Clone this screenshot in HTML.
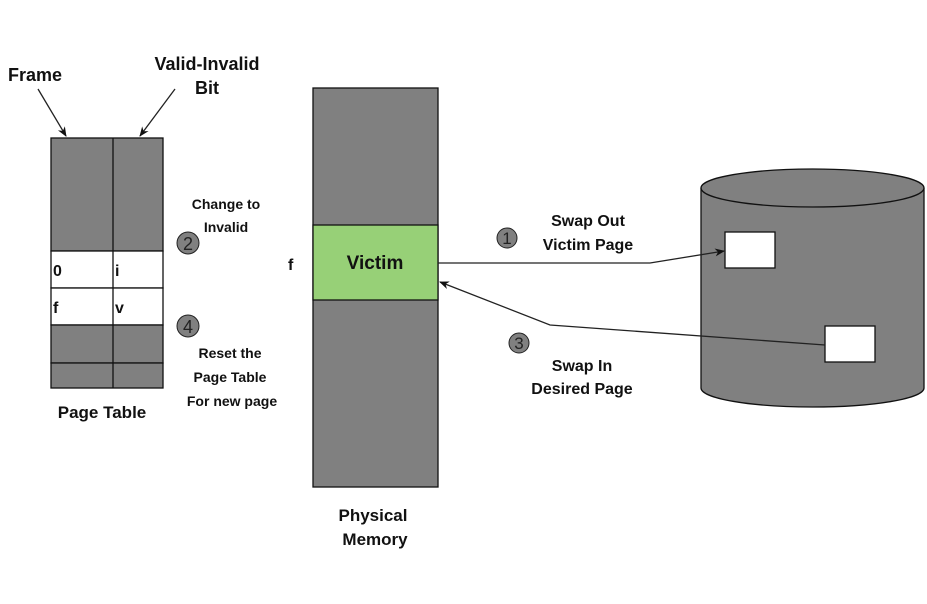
<!DOCTYPE html>
<html><head><meta charset="utf-8"><style>
html,body{margin:0;padding:0;background:#fff;}
svg{display:block;}
text{font-family:"Liberation Sans",Arial,sans-serif;font-weight:bold;fill:#111;}
text.n{font-weight:normal;fill:#222;}
</style></head><body>
<svg width="927" height="604" viewBox="0 0 927 604" xmlns="http://www.w3.org/2000/svg">
<defs>
<marker id="ah" markerWidth="10" markerHeight="10" refX="9" refY="5" orient="auto" markerUnits="userSpaceOnUse">
<path d="M0,1 L10,5 L0,9 L3,5 Z" fill="#111"/>
</marker>
</defs>
<text x="35" y="81" font-size="18" text-anchor="middle">Frame</text>
<text x="207" y="70" font-size="18" text-anchor="middle">Valid-Invalid</text>
<text x="207" y="94" font-size="18" text-anchor="middle">Bit</text>
<line x1="38" y1="89" x2="66" y2="136" stroke="#222" stroke-width="1.3" marker-end="url(#ah)"/>
<line x1="175" y1="89" x2="140" y2="136" stroke="#222" stroke-width="1.3" marker-end="url(#ah)"/>
<g stroke="#111" stroke-width="1.3">
<rect x="51" y="138" width="112" height="113" fill="#808080"/>
<rect x="51" y="251" width="112" height="37" fill="#fff"/>
<rect x="51" y="288" width="112" height="37" fill="#fff"/>
<rect x="51" y="325" width="112" height="38" fill="#808080"/>
<rect x="51" y="363" width="112" height="25" fill="#808080"/>
<line x1="113" y1="138" x2="113" y2="388"/>
</g>
<text x="53" y="276" font-size="16">0</text>
<text x="115" y="276" font-size="16">i</text>
<text x="53" y="313" font-size="16">f</text>
<text x="115" y="313" font-size="16">v</text>
<text x="102" y="418" font-size="17" text-anchor="middle">Page Table</text>
<text x="226" y="209" font-size="14" text-anchor="middle">Change to</text>
<text x="226" y="232" font-size="14" text-anchor="middle">Invalid</text>
<circle cx="188" cy="243" r="11" fill="#808080" stroke="#222" stroke-width="1"/>
<text class="n" x="188" y="250" font-size="18" text-anchor="middle">2</text>
<circle cx="188" cy="326" r="11" fill="#808080" stroke="#222" stroke-width="1"/>
<text class="n" x="188" y="333" font-size="18" text-anchor="middle">4</text>
<text x="230" y="358" font-size="14" text-anchor="middle">Reset the</text>
<text x="230" y="382" font-size="14" text-anchor="middle">Page Table</text>
<text x="232" y="406" font-size="14" text-anchor="middle">For new page</text>
<text x="288" y="270" font-size="16">f</text>
<g stroke="#111" stroke-width="1.3">
<rect x="313" y="88" width="125" height="399" fill="#808080"/>
<rect x="313" y="225" width="125" height="75" fill="#97d077"/>
</g>
<text x="375" y="269" font-size="19" text-anchor="middle">Victim</text>
<text x="373" y="521" font-size="17" text-anchor="middle">Physical</text>
<text x="375" y="545" font-size="17" text-anchor="middle">Memory</text>
<path d="M701,188 L701,388 A111.5,19 0 0 0 924,388 L924,188" fill="#808080" stroke="#111" stroke-width="1.3"/>
<ellipse cx="812.5" cy="188" rx="111.5" ry="19" fill="#808080" stroke="#111" stroke-width="1.3"/>
<rect x="725" y="232" width="50" height="36" fill="#fff" stroke="#111" stroke-width="1.3"/>
<rect x="825" y="326" width="50" height="36" fill="#fff" stroke="#111" stroke-width="1.3"/>
<polyline points="438,263 650,263 724,251" fill="none" stroke="#222" stroke-width="1.3" marker-end="url(#ah)"/>
<polyline points="825,345 550,325 440,282" fill="none" stroke="#222" stroke-width="1.3" marker-end="url(#ah)"/>
<circle cx="507" cy="238" r="10" fill="#808080" stroke="#222" stroke-width="1"/>
<text class="n" x="507" y="244" font-size="17" text-anchor="middle">1</text>
<circle cx="519" cy="343" r="10" fill="#808080" stroke="#222" stroke-width="1"/>
<text class="n" x="519" y="349" font-size="17" text-anchor="middle">3</text>
<text x="588" y="226" font-size="16" text-anchor="middle">Swap Out</text>
<text x="588" y="250" font-size="16" text-anchor="middle">Victim Page</text>
<text x="582" y="371" font-size="16" text-anchor="middle">Swap In</text>
<text x="582" y="394" font-size="16" text-anchor="middle">Desired Page</text>
</svg>
</body></html>
